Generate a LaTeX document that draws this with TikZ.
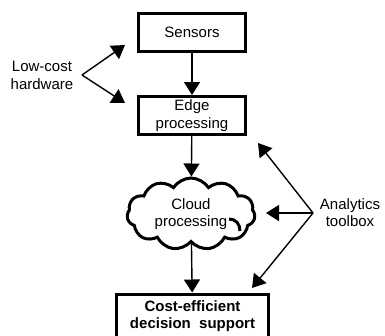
\documentclass[tikz,border=0pt]{standalone}
\usepackage{fontspec}
\setmainfont{Liberation Sans}
\usetikzlibrary{arrows.meta,shapes.symbols}
\begin{document}
\begin{tikzpicture}[x=1pt,y=-1pt,
  txt/.style={font=\fontsize{15}{17.5}\selectfont, align=center, inner sep=0pt},
  stage/.style={txt, draw, line width=3pt, minimum width=107pt, minimum height=38pt},
  cloudbox/.style={txt, draw, line width=3pt, cloud, cloud puffs=11, cloud puff arc=115,
    cloud ignores aspect, minimum width=128pt, minimum height=72pt},
  flow/.style={line width=1.4pt, -{Triangle[width=16pt,length=13pt]}}]
\useasboundingbox (0,0) rectangle (385,335);
\clip (0,0) rectangle (385,335);

% processing chain
\node[stage] (sens) at (192,32.5) {Sensors};
\node[stage] (edge) at (192,115.5) {Edge\\processing};
\node[cloudbox] (cloud) at (191,214) {Cloud\\processing};
\node[stage, minimum width=152pt, minimum height=44pt, font=\fontsize{15}{17.5}\selectfont\bfseries]
  (dec) at (192.5,316) {Cost-efficient\\decision~~support};

% small curl inside the cloud outline
\draw[line width=3pt] (229,219) .. controls (236,219) and (240,224) .. (240,231);

\draw[flow] (sens) -- (edge);
\draw[flow] (edge) -- (cloud);
\draw[flow] (cloud) -- (dec);

% hardware annotation
\node[txt] (hw) at (42,75.5) {Low-cost\\hardware};
\coordinate (hwv) at (82,75);
\coordinate (hwa) at (125,45);
\coordinate (hwb) at (125,103);
\draw[flow] (hwv) -- (hwa);
\draw[flow] (hwv) -- (hwb);

% analytics annotation
\node[txt] (an) at (350,212.5) {Analytics\\toolbox};
\coordinate (anv) at (313,213);
\coordinate (ana) at (258,143);
\coordinate (anb) at (266,213);
\coordinate (anc) at (252,288);
\draw[flow] (anv) -- (ana);
\draw[flow] (anv) -- (anb);
\draw[flow] (anv) -- (anc);
\end{tikzpicture}
\end{document}
